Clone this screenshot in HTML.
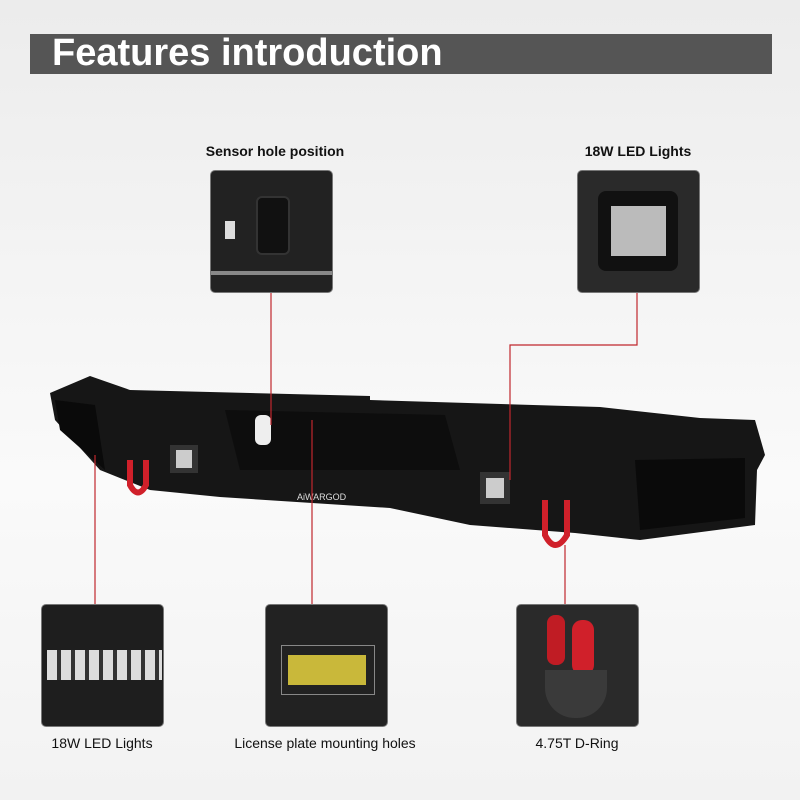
<!DOCTYPE html>
<html><head><style>
body{margin:0;width:800px;height:800px;overflow:hidden;background:linear-gradient(#ececec,#fafafa 60%,#f2f2f2);font-family:"Liberation Sans",sans-serif;position:relative}
.bar{position:absolute;left:30px;top:34px;width:742px;height:40px;background:#555}
.bar span{position:absolute;left:22px;top:-2px;color:#fff;font-weight:bold;font-size:38px}
.lbl{position:absolute;font-size:14px;color:#111;text-align:center;width:240px}
.box{position:absolute;width:121px;height:121px;border:1px solid #777;border-radius:5px;background:#1b1b1b;overflow:hidden}
</style></head><body>
<div class="bar"><span>Features introduction</span></div>
<div class="lbl" style="left:155px;top:143px;font-weight:bold">Sensor hole position</div>
<div class="lbl" style="left:518px;top:143px;font-weight:bold">18W LED Lights</div>
<div class="lbl" style="left:-18px;top:735px">18W LED Lights</div>
<div class="lbl" style="left:205px;top:735px">License plate mounting holes</div>
<div class="lbl" style="left:457px;top:735px">4.75T D-Ring</div>

<div class="box" style="left:210px;top:170px;background:#222"><div style="position:absolute;left:45px;top:25px;width:30px;height:55px;background:#111;border:2px solid #333;border-radius:6px"></div><div style="position:absolute;left:14px;top:50px;width:10px;height:18px;background:#ddd"></div><div style="position:absolute;left:0;top:100px;width:121px;height:4px;background:#888"></div></div>
<div class="box" style="left:577px;top:170px;background:#2a2a2a"><div style="position:absolute;left:20px;top:20px;width:80px;height:80px;background:#111;border-radius:8px"></div><div style="position:absolute;left:33px;top:35px;width:55px;height:50px;background:#bbb"></div></div>
<div class="box" style="left:41px;top:604px;background:#1e1e1e"><div style="position:absolute;left:5px;top:45px;width:115px;height:30px;background:repeating-linear-gradient(90deg,#ddd 0 10px,#333 10px 14px)"></div></div>
<div class="box" style="left:265px;top:604px;background:#222"><div style="position:absolute;left:15px;top:40px;width:92px;height:48px;background:#222;border:1px solid #888"></div><div style="position:absolute;left:22px;top:50px;width:78px;height:30px;background:#c9b83a"></div></div>
<div class="box" style="left:516px;top:604px;background:#2a2a2a"><div style="position:absolute;left:30px;top:10px;width:18px;height:50px;background:#c01c24;border-radius:8px"></div><div style="position:absolute;left:55px;top:15px;width:22px;height:55px;background:#d0202a;border-radius:10px"></div><div style="position:absolute;left:28px;top:65px;width:62px;height:48px;background:#3a3a3a;border-radius:0 0 30px 30px"></div></div>

<svg width="800" height="800" style="position:absolute;left:0;top:0">
<polygon points="50,393 90,376 130,390 370,396 370,400 600,407 700,418 755,420 765,455 757,470 755,525 640,540 575,533 470,525 390,508 220,497 150,490 100,470 55,420" fill="#161616"/>
<polygon points="55,400 95,405 105,470 60,430" fill="#0a0a0a"/>
<polygon points="635,460 745,458 745,518 640,530" fill="#0a0a0a"/>
<polygon points="225,410 445,415 460,470 240,470" fill="#0d0d0d"/>
<rect x="255" y="415" width="16" height="30" fill="#eee" rx="6"/>
<rect x="480" y="472" width="30" height="32" fill="#333"/><rect x="486" y="478" width="18" height="20" fill="#ccc"/>
<rect x="170" y="445" width="28" height="28" fill="#333"/><rect x="176" y="450" width="16" height="18" fill="#ccc"/>
<path d="M130,460 v25 q8,15 16,0 v-25" stroke="#d0202a" stroke-width="6" fill="none"/>
<path d="M545,500 v35 q10,20 22,0 v-35" stroke="#d0202a" stroke-width="6" fill="none"/>
<text x="297" y="500" fill="#ddd" font-size="9" font-family="Liberation Sans">AiWARGOD</text>
<g stroke="#c0272d" stroke-width="1.2" fill="none">
<path d="M271,293 V425"/><path d="M637,293 V345 H510 V480"/>
<path d="M95,604 V455"/><path d="M312,604 V420"/><path d="M565,604 V545"/>
</g>
</svg>
</body></html>
